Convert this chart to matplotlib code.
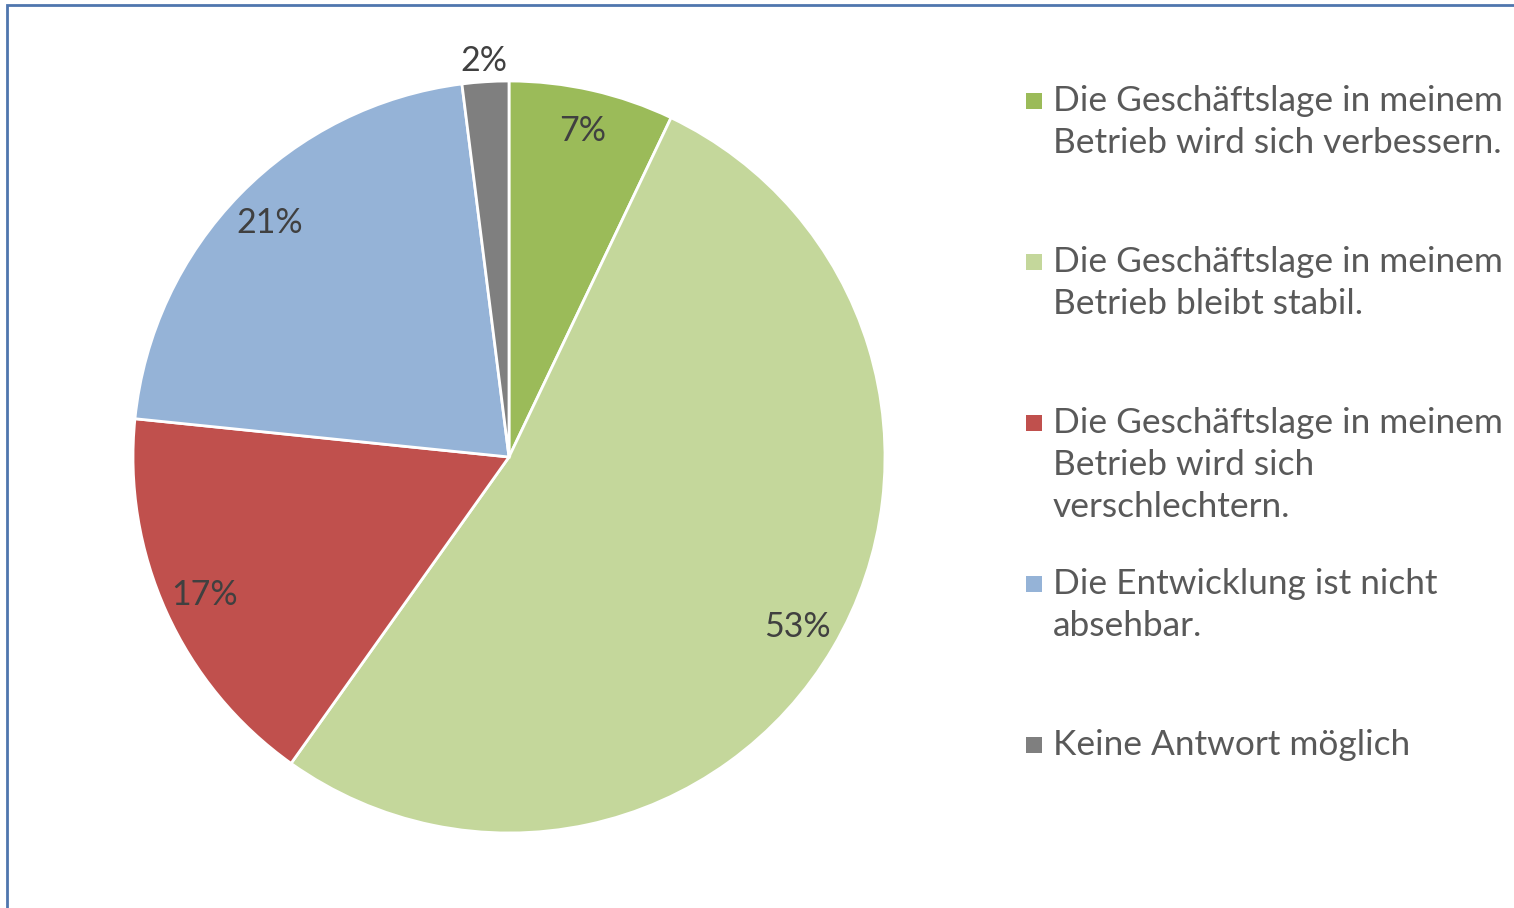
import numpy as np
import matplotlib.pyplot as plt
from matplotlib.patches import Rectangle

plt.rcParams['font.family'] = ['Lato', 'DejaVu Sans']

# shares, clockwise from 12 o'clock
labels = [
    "Die Geschäftslage in meinem\nBetrieb wird sich verbessern.",
    "Die Geschäftslage in meinem\nBetrieb bleibt stabil.",
    "Die Geschäftslage in meinem\nBetrieb wird sich\nverschlechtern.",
    "Die Entwicklung ist nicht\nabsehbar.",
    "Keine Antwort möglich",
]
shares = [7.1, 52.8, 16.8, 21.4, 2.0]
colors = ["#9BBB59", "#C4D79B", "#C0504D", "#95B3D7", "#7F7F7F"]

W, H = 1514, 908
fig = plt.figure(figsize=(W / 100, H / 100), dpi=100)

# pie centre at (509, 457) px, radius 376 px
cx, cy, r = 509, H - 457, 376
ax = fig.add_axes([(cx - r) / W, (cy - r) / H, 2 * r / W, 2 * r / H])
wedges, texts, autotexts = ax.pie(
    shares, colors=colors, startangle=90, counterclock=False,
    autopct="%.0f%%", pctdistance=0.89,
    wedgeprops=dict(edgecolor="white", linewidth=2),
    textprops=dict(color="#404040", fontsize=24.5),
)
ax.set_xlim(-1, 1)
ax.set_ylim(-1, 1)
ax.set_aspect("equal")

# the small slice gets its label outside
w = wedges[-1]
mid = np.deg2rad((w.theta1 + w.theta2) / 2)
autotexts[-1].set_position((1.055 * np.cos(mid), 1.055 * np.sin(mid)))

# legend drawn by hand, one square per entry at the first text line
step = 161
for i, (lab, col) in enumerate(zip(labels, colors)):
    y = 101 + i * step
    fig.add_artist(Rectangle((1026 / W, (H - y - 8) / H), 16 / W, 16 / H,
                             transform=fig.transFigure, color=col, lw=0))
    fig.text(1053 / W, (H - y + 16) / H, lab, color="#595959", fontsize=25.4,
             va="top", ha="left", linespacing=1.38)

# chart frame, cut off at the right and bottom
fig.add_artist(Rectangle((7 / W, -0.05), 1.1, (H - 5) / H + 0.05,
                         transform=fig.transFigure, fill=False,
                         edgecolor="#4F76AE", lw=2))

fig.savefig("out.png", dpi=100)
